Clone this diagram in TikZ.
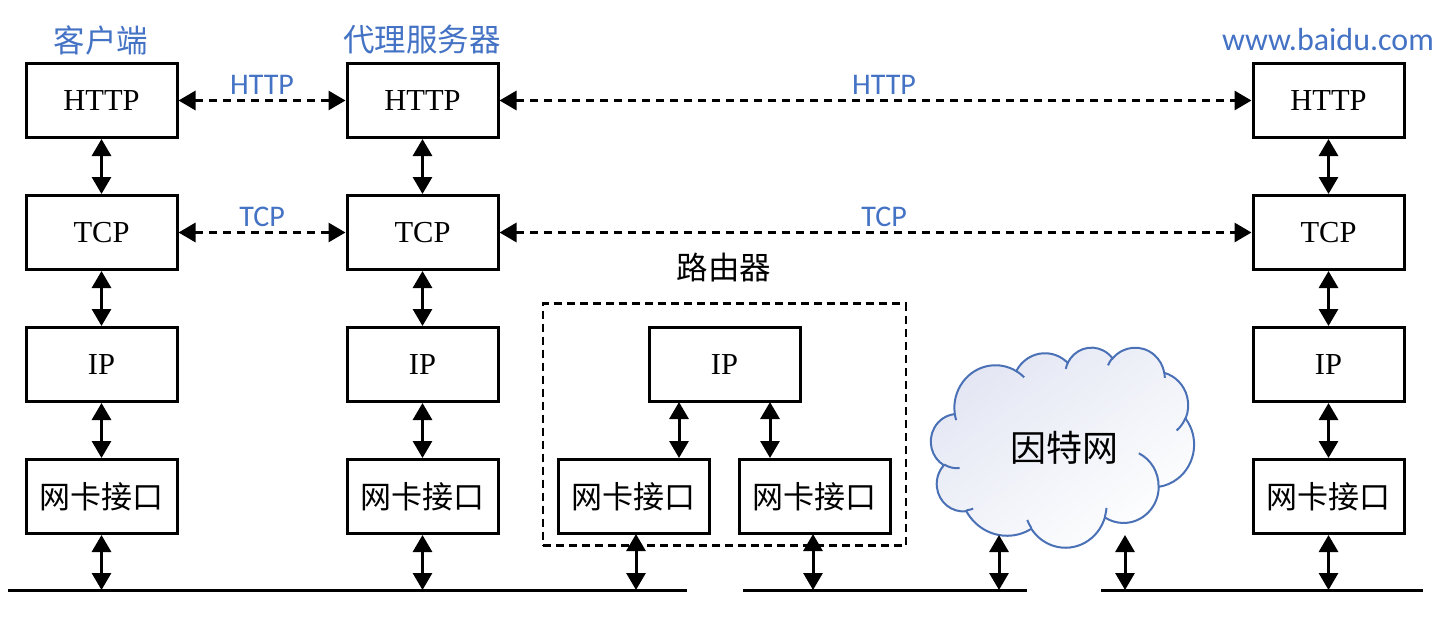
\documentclass[tikz,border=0pt]{standalone}
\usepackage{fontspec}
\setmainfont{Liberation Serif}
\newfontfamily\cjk{Noto Sans CJK SC}
\newfontfamily\lab{Carlito}
\usetikzlibrary{arrows.meta}
\definecolor{myblue}{HTML}{4472C4}
\definecolor{cloudblue}{HTML}{4A70B6}
\definecolor{cloudfill}{HTML}{E3E6F3}
\tikzset{
  box/.style={draw, line width=3pt, minimum width=151pt, minimum height=74pt, inner sep=0pt, font=\fontsize{30.5}{34}\selectfont},
  cbox/.style={box, font=\cjk\fontsize{31}{34}\selectfont},
  arr/.style={line width=3pt, {Triangle[length=17pt,width=19pt]}-{Triangle[length=17pt,width=19pt]}},
  darr/.style={arr, dash pattern=on 8pt off 6pt},
  blab/.style={text=myblue, font=\lab\fontsize{30}{34}\selectfont, inner sep=0pt},
  ctitle/.style={text=myblue, font=\cjk\fontsize{31.5}{34}\selectfont, inner sep=0pt},
  ground/.style={line width=3pt},
  oarc/.style n args={4}{insert path={
    arc[x radius=#1, y radius=#2,
        start angle={atan2((#1)*sin(#3),(#2)*cos(#3))},
        delta angle={Mod(atan2((#1)*sin((#3)+(#4)),(#2)*cos((#3)+(#4)))-atan2((#1)*sin(#3),(#2)*cos(#3)),360)}]}},
}
\begin{document}
\begin{tikzpicture}[x=1pt,y=-1pt]
\useasboundingbox (0,0) rectangle (1456,618);
% titles
\node[ctitle] (tc) at (101,40) {客户端};
\node[ctitle] (tp) at (422,40) {代理服务器};
\node[blab, font=\lab\fontsize{32}{34}\selectfont] (ts) at (1328,40) {www.baidu.com};
\node[font=\cjk\fontsize{31.5}{34}\selectfont, inner sep=0pt] (tr) at (724,268) {路由器};
% client
\node[box] (c1) at (101.5,100.5) {HTTP};
\node[box] (c2) at (101.5,232.5) {TCP};
\node[box] (c3) at (101.5,364.5) {IP};
\node[cbox] (c4) at (101.5,496.5) {网卡接口};
% proxy
\node[box] (p1) at (422.5,100.5) {HTTP};
\node[box] (p2) at (422.5,232.5) {TCP};
\node[box] (p3) at (422.5,364.5) {IP};
\node[cbox] (p4) at (422.5,496.5) {网卡接口};
% server
\node[box] (s1) at (1328.5,100.5) {HTTP};
\node[box] (s2) at (1328.5,232.5) {TCP};
\node[box] (s3) at (1328.5,364.5) {IP};
\node[cbox] (s4) at (1328.5,496.5) {网卡接口};
% router
\node[draw, line width=2.3pt, dash pattern=on 8pt off 5pt, minimum width=363pt, minimum height=242pt, inner sep=0pt] (rr) at (724.5,424.5) {};
\node[box] (r3) at (724.5,364.5) {IP};
\node[cbox] (r4a) at (633.5,496.5) {网卡接口};
\node[cbox] (r4b) at (814.5,496.5) {网卡接口};
% cloud (office-style)
\begin{scope}[shift={(931,347)}, x=0.6088pt, y=-0.463pt]
\path[draw=cloudblue, line width=2pt, top color=cloudfill, bottom color=white, shading angle=35]
  (39.00,143.70)
  [oarc={67.53}{91.90}{-190.4875}{123.7805}]
  [oarc={53.33}{72.67}{-144.1024}{89.9452}]
  [oarc={43.65}{59.45}{-145.8079}{99.7230}]
  [oarc={48.57}{65.95}{-130.9861}{117.2417}]
  [oarc={53.33}{72.73}{-78.7089}{109.0269}]
  [oarc={67.75}{92.20}{-46.2673}{130.2690}]
  [oarc={57.85}{78.67}{0.6250}{114.0333}]
  [oarc={67.52}{92.15}{22.4516}{115.1726}]
  [oarc={77.20}{105.43}{66.2426}{75.7110}]
  [oarc={43.60}{59.18}{-274.9421}{146.7356}]
  [oarc={43.45}{59.45}{-246.8285}{152.5189}]
  -- cycle;
\path[draw=cloudblue, line width=2pt]
  (46.93,261.77) [oarc={43.45}{59.45}{86.7420}{26.4295}]
  (69.28,348.99) [oarc={43.60}{59.18}{73.6105}{11.4475}]
  (164.78,390.90) [oarc={67.52}{92.15}{137.6242}{14.0811}]
  (288.27,347.51) [oarc={67.52}{92.15}{6.4533}{15.9984}]
  (341.29,229.54) [oarc={57.85}{78.67}{-70.2924}{70.9174}]
  (417.98,153.54) [oarc={53.33}{72.73}{30.3180}{27.7515}]
  (383.24,54.26) [oarc={48.57}{65.95}{-13.7443}{14.8519}]
  (290.78,39.52) [oarc={48.57}{65.95}{-149.1815}{18.1906}]
  (221.41,47.20) [oarc={43.65}{59.45}{-163.4943}{17.6864}]
  (140.00,51.92) [oarc={67.53}{91.90}{-66.7070}{12.3194}]
  (41.27,157.89) [oarc={67.53}{91.90}{157.6544}{11.8582}];
\end{scope}
\node[font=\cjk\fontsize{36}{40}\selectfont, inner sep=0pt] (nett) at (1064,448) {因特网};
% ground lines
\coordinate (g1a) at (8,590);
\coordinate (g1b) at (687,590);
\coordinate (g2a) at (743,590);
\coordinate (g2b) at (1027,590);
\coordinate (g3a) at (1101,590);
\coordinate (g3b) at (1423,590);
\draw[ground] (g1a) -- (g1b);
\draw[ground] (g2a) -- (g2b);
\draw[ground] (g3a) -- (g3b);
% vertical arrows
\foreach \n in {c,p,s}{
  \draw[arr] (\n1.south) -- (\n2.north);
  \draw[arr] (\n2.south) -- (\n3.north);
  \draw[arr] (\n3.south) -- (\n4.north);
}
\draw[arr] (c4.south) -- (c4.south |- g1a);
\draw[arr] (p4.south) -- (p4.south |- g1a);
\draw[arr] (s4.south) -- (s4.south |- g3a);
\coordinate (ra1) at (679,402);
\coordinate (ra2) at (770,402);
\draw[arr] (ra1) -- (ra1 |- r4a.north);
\draw[arr] (ra2) -- (ra2 |- r4b.north);
\coordinate (rb1) at (636,534);
\coordinate (rb2) at (813,534);
\draw[arr] (rb1) -- (rb1 |- g1a);
\draw[arr] (rb2) -- (rb2 |- g2a);
\coordinate (nb1) at (999,535);
\coordinate (nb2) at (1125,535);
\draw[arr] (nb1) -- (nb1 |- g2a);
\draw[arr] (nb2) -- (nb2 |- g3a);
% horizontal dashed arrows
\draw[darr] (c1.east) -- (p1.west);
\draw[darr] (p1.east) -- (s1.west);
\draw[darr] (c2.east) -- (p2.west);
\draw[darr] (p2.east) -- (s2.west);
\node[blab] (l1) at (262,85) {HTTP};
\node[blab] (l2) at (884,85) {HTTP};
\node[blab] (l3) at (262,217) {TCP};
\node[blab] (l4) at (884,217) {TCP};
\end{tikzpicture}
\end{document}
